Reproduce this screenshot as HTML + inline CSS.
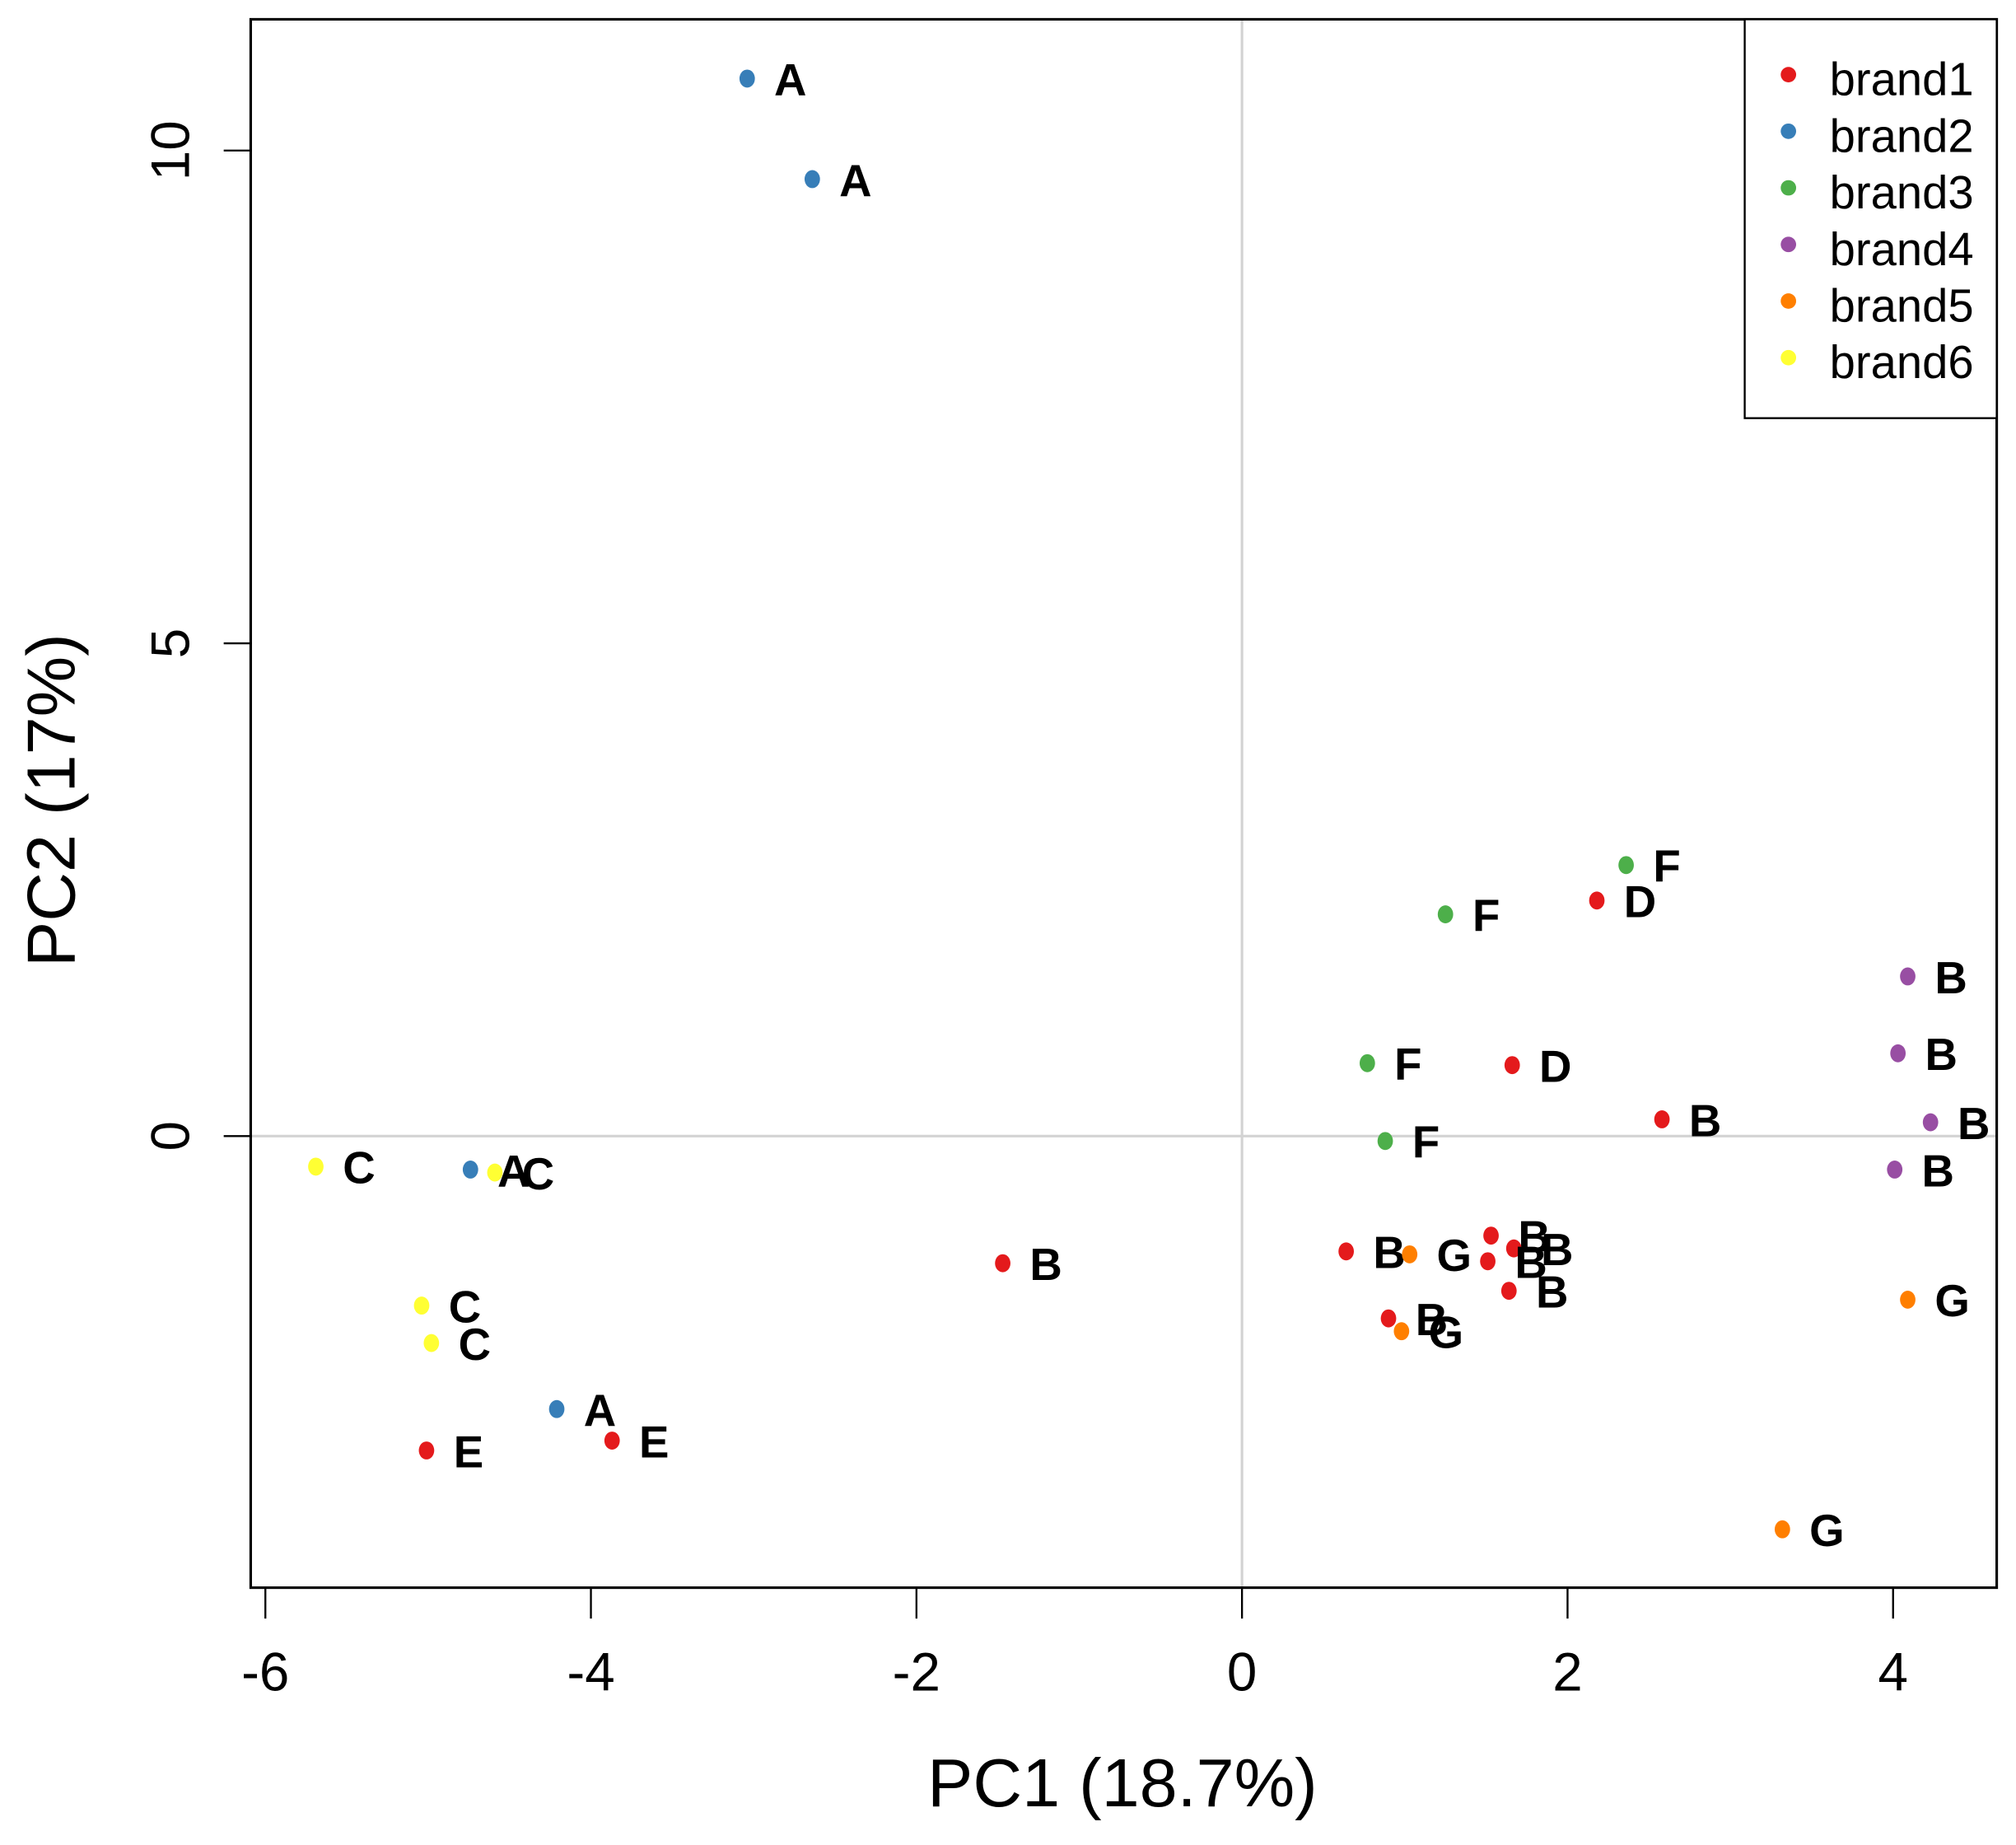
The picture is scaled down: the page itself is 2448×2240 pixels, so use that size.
<!DOCTYPE html>
<html><head><meta charset="utf-8"><style>
html,body{margin:0;padding:0;background:#fff;}
svg{display:block;}
text{font-family:"Liberation Sans",Arial,sans-serif;}
</style></head><body>
<svg id="chart" width="2448" height="2240" viewBox="0 0 1568 1434" preserveAspectRatio="none" xmlns="http://www.w3.org/2000/svg">
<rect width="1568" height="1434" fill="#fff"/>
<g id="grid"></g>
<g id="marks"></g>
<rect x="195" y="15" width="1358" height="1219" fill="none" stroke="#000" stroke-width="2"/>
<g id="axes"></g>
<text x="873" y="1404" font-size="53" text-anchor="middle">PC1 (18.7%)</text>
<text transform="translate(58,622) rotate(-90)" font-size="53" text-anchor="middle">PC2 (17%)</text>
<g>
<rect x="1357" y="15" width="196" height="310" fill="#fff" stroke="#000" stroke-width="1.5"/>
<g id="legend"></g>
</g>
</svg>
<script>
const brands = ["brand1","brand2","brand3","brand4","brand5","brand6"];
const colors = ["#e41a1c","#377eb8","#4daf4a","#984ea3","#ff7f00","#ffff33"];
const pc1 = [-3.04,-2.64,-4.74,-4.21,-5.69,-4.59,-5.04,-4.98,-5.01,-3.87,-1.47,2.36,1.25,0.77,0.88,2.18,1.66,2.58,4.09,4.03,4.23,4.01,0.64,1.03,1.53,1.67,1.51,1.64,0.90,0.98,4.09,3.32];
const pc2 = [10.73,9.71,-0.34,-2.77,-0.31,-0.37,-1.72,-2.10,-3.19,-3.09,-1.29,2.75,2.25,0.74,-0.05,2.39,0.72,0.17,1.62,0.84,0.14,-0.34,-1.17,-1.20,-1.01,-1.14,-1.27,-1.57,-1.85,-1.98,-1.66,-3.99];
const group = [2,2,2,2,6,6,6,6,1,1,1,3,3,3,3,1,1,1,4,4,4,4,1,5,1,1,1,1,1,5,5,5];
const labels = ["A","A","A","A","C","C","C","C","E","E","B","F","F","F","F","D","D","B","B","B","B","B","B","G","B","B","B","B","B","G","G","G"];
const xTicks = [-6,-4,-2,0,2,4];
const yTicks = [0,5,10];

const NS="http://www.w3.org/2000/svg";
const sx = v => 966 + v*126.6;
const sy = v => 883 - v*76.6;
function mk(tag, attrs, parent){const e=document.createElementNS(NS,tag);for(const k in attrs)e.setAttribute(k,attrs[k]);parent.appendChild(e);return e;}
const grid=document.getElementById('grid'), marks=document.getElementById('marks'), axes=document.getElementById('axes'), legend=document.getElementById('legend');

let l=mk('line',{x1:sx(0),x2:sx(0),y1:15,y2:1234,stroke:'#d3d3d3','stroke-width':2},grid);


l=mk('line',{x1:195,x2:1553,y1:sy(0),y2:sy(0),stroke:'#d3d3d3','stroke-width':2},grid);



xTicks.forEach(t=>{
  const tk=mk('line',{x1:sx(t),x2:sx(t),y1:1234,y2:1258,stroke:'#000','stroke-width':1.5},axes);
  
  
  const tx=mk('text',{x:sx(t),y:1314,'font-size':42,'text-anchor':'middle'},axes);
  tx.textContent=t;
  
  
});
yTicks.forEach(t=>{
  const tk=mk('line',{x1:174,x2:195,y1:sy(t),y2:sy(t),stroke:'#000','stroke-width':1.5},axes);
  
  
  const tx=mk('text',{transform:`translate(147,${sy(t)}) rotate(-90)`,'font-size':42,'text-anchor':'middle'},axes);
  tx.textContent=t;
  
  
});

pc1.forEach((v,i)=>{
  const c=mk('ellipse',{cx:sx(v),cy:sy(pc2[i]),rx:6,ry:7,fill:colors[group[i]-1]},marks);
  
  
  const t=mk('text',{x:sx(v)+21,y:sy(pc2[i])+13,'font-size':35,'font-weight':'bold'},marks);
  t.textContent=labels[i];
  
  
});

brands.forEach((b,i)=>{
  const y=61+i*44;
  const c=mk('circle',{cx:1391,cy:y-3,r:6,fill:colors[i]},legend);
  
  
  const t=mk('text',{x:1423,y:y+13,'font-size':36},legend);
  t.textContent=b;
  
  
});
</script>
</body></html>
